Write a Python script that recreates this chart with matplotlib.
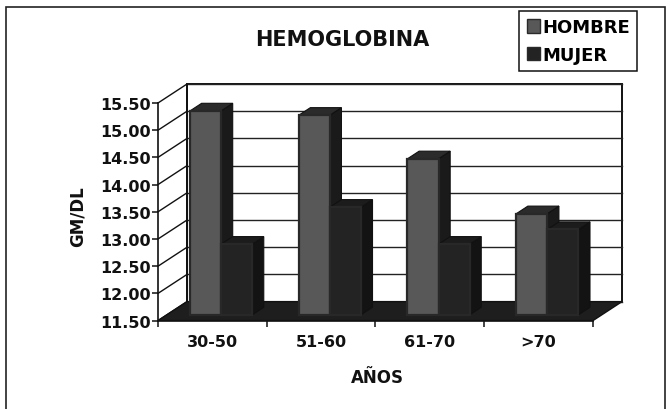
import numpy as np
import matplotlib.pyplot as plt
from matplotlib.patches import Polygon, Patch, Rectangle

plt.rcParams['font.family'] = ['DejaVu Sans']
plt.rcParams['font.weight'] = 'bold'

# Hemoglobin by age group and sex (GM/DL)
categories = ['30-50', '51-60', '61-70', '>70']
hombre = [15.25, 15.17, 14.37, 13.36]
mujer = [12.80, 13.48, 12.80, 13.07]
series_names = ['HOMBRE', 'MUJER']
ytick_values = [11.5, 12.0, 12.5, 13.0, 13.5, 14.0, 14.5, 15.0, 15.5]

YMIN, YMAX = 11.5, 15.5
# oblique depth offset of the 3D box, in data units
DX, DY = 0.267, 0.349
# bars sit between 30% and 70% of the box depth
D0, D1 = 0.3, 0.7
BAR_W = 1 / 3.5

face_cols = {
    'HOMBRE': ('#585858', '#2b2b2b', '#1a1a1a'),
    'MUJER': ('#232323', '#1c1c1c', '#131313'),
}


def bar3d(ax, x0, x1, top, cols):
    front_c, lid_c, side_c = cols
    b = YMIN
    side = [(x1 + D0 * DX, b + D0 * DY), (x1 + D1 * DX, b + D1 * DY),
            (x1 + D1 * DX, top + D1 * DY), (x1 + D0 * DX, top + D0 * DY)]
    lid = [(x0 + D0 * DX, top + D0 * DY), (x1 + D0 * DX, top + D0 * DY),
           (x1 + D1 * DX, top + D1 * DY), (x0 + D1 * DX, top + D1 * DY)]
    front = [(x0 + D0 * DX, b + D0 * DY), (x1 + D0 * DX, b + D0 * DY),
             (x1 + D0 * DX, top + D0 * DY), (x0 + D0 * DX, top + D0 * DY)]
    ax.add_patch(Polygon(side, closed=True, fc=side_c, ec='#111111', lw=0.8, zorder=3))
    ax.add_patch(Polygon(lid, closed=True, fc=lid_c, ec='#111111', lw=0.8, zorder=3))
    ax.add_patch(Polygon(front, closed=True, fc=front_c, ec='#282828', lw=1.6, zorder=3))


fig = plt.figure(figsize=(6.7, 4.1), dpi=100)
ax = fig.add_axes([158 / 670, 1 - 321.6 / 410, 464 / 670, 236.6 / 410])
ax.set_facecolor('none')
n = len(categories)
ax.set_xlim(0, n + DX)
ax.set_ylim(YMIN, YMAX + DY)

# back wall with gridlines
ax.add_patch(Rectangle((DX, YMIN + DY), n, YMAX - YMIN, fc='white', ec='#111111',
                       lw=1.4, zorder=0.5, clip_on=False))
for v in ytick_values:
    ax.plot([DX, n + DX], [v + DY, v + DY], color='#222222', lw=1.0, zorder=0.8, clip_on=False)
    # side wall diagonals
    ax.plot([0, DX], [v, v + DY], color='#111111', lw=1.0, zorder=0.8, clip_on=False)
ax.plot([DX, DX], [YMIN + DY, YMAX + DY], color='#111111', lw=1.2, zorder=0.8)

# floor
floor = [(0, YMIN), (n, YMIN), (n + DX, YMIN + DY), (DX, YMIN + DY)]
ax.add_patch(Polygon(floor, closed=True, fc='#1e1e1e', ec='#111111', lw=1.0, zorder=1))

for i in range(n):
    h0 = i + 0.75 * BAR_W
    bar3d(ax, h0, h0 + BAR_W, hombre[i], face_cols['HOMBRE'])
    bar3d(ax, h0 + BAR_W, h0 + 2 * BAR_W, mujer[i], face_cols['MUJER'])

# axes
for s in ['top', 'right']:
    ax.spines[s].set_visible(False)
ax.spines['left'].set_bounds(YMIN, YMAX)
ax.spines['bottom'].set_bounds(0, n)
for s in ['left', 'bottom']:
    ax.spines[s].set_color('#111111')
    ax.spines[s].set_linewidth(1.2)
    ax.spines[s].set_zorder(4)

ax.set_yticks(ytick_values)
ax.set_yticklabels([f'{v:.2f}' for v in ytick_values], fontsize=11.5, fontweight='bold')
ax.tick_params(axis='y', direction='out', length=4, width=1.1, pad=1.5, colors='#111111')

ax.set_xticks(np.arange(n + 1))
ax.set_xticklabels([])
ax.set_xticks(np.arange(n) + 0.5, minor=True)
ax.set_xticklabels(categories, minor=True, fontsize=11.5, fontweight='bold')
ax.tick_params(axis='x', which='major', direction='out', length=4, width=1.1, colors='#111111')
ax.tick_params(axis='x', which='minor', length=0, pad=10, colors='#111111')

fig.text(78 / 670, 1 - 217 / 410, 'GM/DL', rotation=90, ha='center', va='center',
         fontsize=12, fontweight='bold', color='#111111')
fig.text(377 / 670, 1 - 378 / 410, 'AÑOS', ha='center', va='center',
         fontsize=12, fontweight='bold', color='#111111')
fig.text(342 / 670, 1 - 40 / 410, 'HEMOGLOBINA', ha='center', va='center',
         fontsize=15, fontweight='bold', color='#111111')

handles = [Patch(fc=face_cols[k][0], ec='#2a2a2a', lw=1.0) for k in series_names]
leg = fig.legend(handles, series_names, loc='upper right',
                 bbox_to_anchor=(637 / 670, 1 - 12 / 410), bbox_transform=fig.transFigure,
                 fancybox=False, framealpha=1, edgecolor='#111111',
                 handlelength=0.75, handleheight=0.75, handletextpad=0.1,
                 borderpad=0.4, labelspacing=0.55, borderaxespad=0,
                 prop={'size': 13, 'weight': 'bold'})
leg.get_frame().set_linewidth(1.1)

# outer chart frame
fig.add_artist(Rectangle((6 / 670, -0.1), (665 - 6) / 670, 1.1 - 8 / 410,
                         transform=fig.transFigure, fill=False, ec='#222222', lw=1.2))

fig.savefig('out.png', dpi=100)
